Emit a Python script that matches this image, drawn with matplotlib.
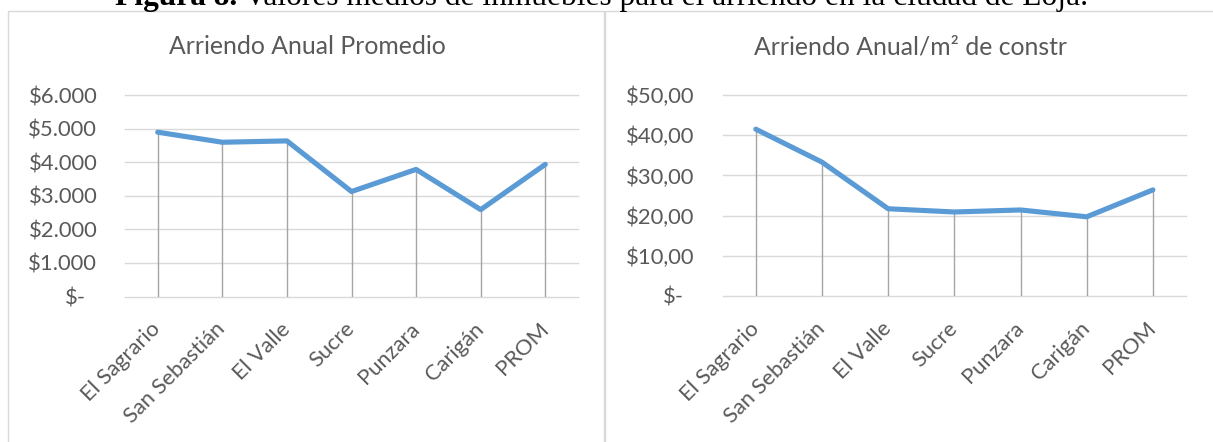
import matplotlib
matplotlib.use("Agg")
import matplotlib.pyplot as plt
from matplotlib.patches import Rectangle
import matplotlib.transforms as mtransforms

# ---------------- data ----------------
categories = ["El Sagrario", "San Sebastián", "El Valle", "Sucre", "Punzara", "Carigán", "PROM"]
arriendo_anual = [4900, 4600, 4640, 3130, 3790, 2590, 3940]
arriendo_m2 = [41.5, 33.3, 21.7, 20.9, 21.4, 19.7, 26.4]
left_ticks = [0, 1000, 2000, 3000, 4000, 5000, 6000]
left_ticklabels = ["$-", "$1.000", "$2.000", "$3.000", "$4.000", "$5.000", "$6.000"]
right_ticks = [0, 10, 20, 30, 40, 50]
right_ticklabels = ["$-", "$10,00", "$20,00", "$30,00", "$40,00", "$50,00"]
titles = ["Arriendo Anual Promedio", "Arriendo Anual/m² de constr"]
caption_bold = "Figura 8."
caption_rest = " Valores medios de inmuebles para el arriendo en la ciudad de Loja."

# ---------------- style ----------------
W, H = 1213, 442
LINE_C = "#5B9BD5"
DROP_C = "#A5A5A5"
GRID_C = "#D9D9D9"
TEXT_C = "#595959"
FONT = "Lato"
TICK_FS = 15.8
TITLE_FS = 17.8
CAP_FS = 22.6

fig = plt.figure(figsize=(W / 100, H / 100), dpi=100)
fig.patch.set_facecolor("white")


def px_axes(x0, x1, ytop, ybot):
    return fig.add_axes([x0 / W, (H - ybot) / H, (x1 - x0) / W, (ybot - ytop) / H])


# panel borders
for (x0, x1) in [(7.5, 603.5), (604.5, 1225)]:
    fig.add_artist(Rectangle((x0 / W, -0.05), (x1 - x0) / W, (H - 10.5) / H + 0.05,
                             transform=fig.transFigure, fill=False,
                             edgecolor=GRID_C, linewidth=1.0))

panels = [
    dict(box=(125.4, 577.6, 95.3, 296.5), vals=arriendo_anual, ticks=left_ticks,
         labels=left_ticklabels, ylim=(0, 6000), title=titles[0], center=307),
    dict(box=(722.7, 1186.0, 95.0, 296.0), vals=arriendo_m2, ticks=right_ticks,
         labels=right_ticklabels, ylim=(0, 50), title=titles[1], center=910),
]

for p in panels:
    ax = px_axes(*p["box"])
    x = list(range(len(categories)))
    ax.set_xlim(-0.5, len(categories) - 0.5)
    ax.set_ylim(*p["ylim"])
    for t in p["ticks"]:
        ax.axhline(t, color=GRID_C, lw=1.0, zorder=1, clip_on=False)
    ax.vlines(x, 0, p["vals"], color=DROP_C, lw=1.0, zorder=2)
    ax.plot(x, p["vals"], color=LINE_C, lw=3.7, solid_joinstyle="round",
            solid_capstyle="round", zorder=3, clip_on=False)
    for s in ax.spines.values():
        s.set_visible(False)
    ax.set_yticks(p["ticks"], p["labels"])
    ax.tick_params(axis="y", length=0, pad=20.3, labelsize=TICK_FS, labelcolor=TEXT_C)
    for lab in ax.get_yticklabels():
        lab.set_fontfamily(FONT)
        if lab.get_text() == "$-":
            lab.set_transform(lab.get_transform() +
                              mtransforms.ScaledTranslation(-11 / 100, 0, fig.dpi_scale_trans))
    ax.set_xticks(x, categories)
    ax.tick_params(axis="x", length=0, pad=16.0, labelsize=TICK_FS, labelcolor=TEXT_C)
    for lab in ax.get_xticklabels():
        lab.set_fontfamily(FONT)
        lab.set_rotation(45)
        lab.set_ha("right")
        lab.set_va("top")
        lab.set_transform(lab.get_transform() +
                          mtransforms.ScaledTranslation(7 / 100, 0, fig.dpi_scale_trans))
    fig.text(p["center"] / W, 1 - 47 / H, p["title"], ha="center", va="center",
             fontsize=TITLE_FS, color=TEXT_C, fontfamily=FONT)

# caption (partially cut at the top edge, as in the source image)
CAP_BASE = 1 - 5.5 / H
cb = fig.text(115 / W, CAP_BASE, caption_bold, ha="left", va="baseline",
              fontsize=CAP_FS, fontweight="bold", fontfamily="Liberation Serif", color="black")
fig.canvas.draw()
bb = cb.get_window_extent()
fig.text(bb.x1 / W, CAP_BASE, caption_rest, ha="left", va="baseline",
         fontsize=CAP_FS, fontfamily="Liberation Serif", color="black")

fig.savefig("out.png", dpi=100, facecolor="white")
